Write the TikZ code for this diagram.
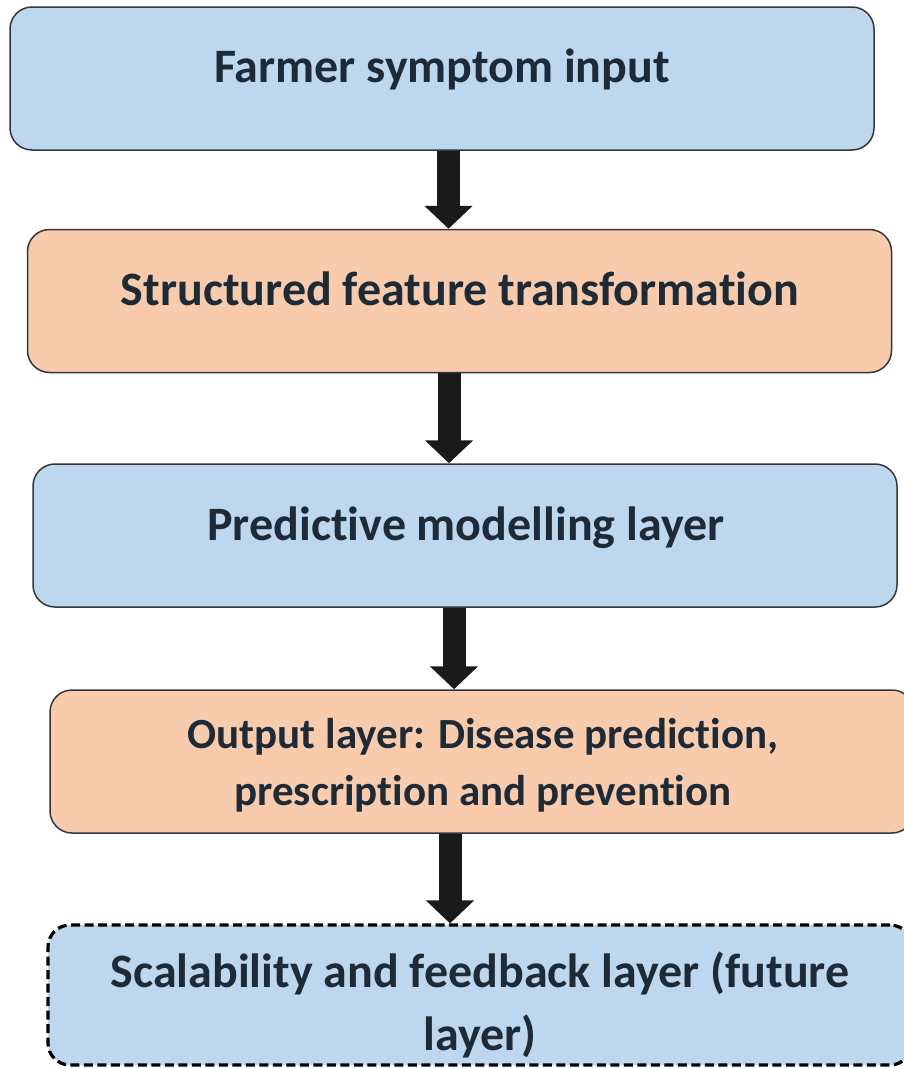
\documentclass[tikz,border=0pt]{standalone}
\usepackage{fontspec}
\setmainfont{Carlito}[Ligatures={NoCommon}]
\usetikzlibrary{arrows.meta}
\definecolor{boxblue}{HTML}{BDD7EE}
\definecolor{boxorange}{HTML}{F8CBAD}
\definecolor{boxline}{HTML}{363636}
\definecolor{inkdark}{HTML}{1F2A37}
\definecolor{arrowfill}{HTML}{1A1A1A}
\tikzset{
  layerbox/.style={draw=boxline, line width=1.5pt, rounded corners=22pt,
    minimum width=864pt, minimum height=143pt, inner sep=0pt},
  bluebox/.style={layerbox, fill=boxblue},
  orangebox/.style={layerbox, fill=boxorange},
  futurebox/.style={bluebox, draw=black, line width=3.2pt, dash pattern=on 9pt off 4.5pt},
  layertext/.style={anchor=base, inner sep=0pt, text=inkdark,
    font=\fontsize{48}{57}\selectfont\bfseries},
  smalltext/.style={layertext, font=\fontsize{43}{57}\selectfont\bfseries},
  flowarrow/.style={draw=arrowfill, line width=23pt,
    -{Triangle[width=47pt,length=23pt]}, arrowfill}
}
\begin{document}
\begin{tikzpicture}[x=1pt, y=-1pt]
  \useasboundingbox (0,0) rectangle (904,1068);

  % layer boxes
  \node[bluebox]   (b1) at (442,78.5)  {};
  \node[orangebox] (b2) at (459.5,301) {};
  \node[bluebox]   (b3) at (465,535.5) {};
  \node[orangebox] (b4) at (482,761.5) {};
  \node[futurebox, minimum height=140pt] (b5) at (480,995) {};

  % labels
  \node[layertext] (t1) at (442,82)  {Farmer symptom input};
  \node[layertext] (t2) at (460,305) {Structured feature transformation};
  \node[layertext] (t3) at (466,540) {Predictive modelling layer};
  \node[smalltext] (t4a) at (483,748) {Output layer: Disease prediction,};
  \node[smalltext] (t4b) at (483,805) {prescription and prevention};
  \node[layertext] (t5a) at (480,987) {Scalability and feedback layer (future};
  \node[layertext] (t5b) at (480,1050) {layer)};

  % flow arrows between layers
  \draw[flowarrow] (b1.south -| 448.5,0) -- (b2.north -| 448.5,0);
  \draw[flowarrow] (b2.south -| 449,0) -- (b3.north -| 449,0);
  \draw[flowarrow] (b3.south -| 454,0) -- (b4.north -| 454,0);
  \draw[flowarrow] (b4.south -| 450,0) -- (b5.north -| 450,0);
\end{tikzpicture}
\end{document}
